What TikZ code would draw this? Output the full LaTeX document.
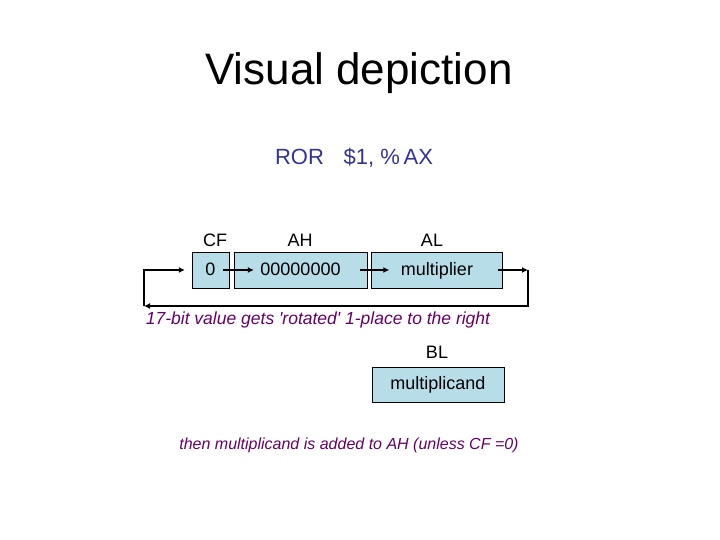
\documentclass[tikz,border=0pt]{standalone}
\usepackage{fontspec}
\setmainfont{Liberation Sans}
\usetikzlibrary{arrows.meta, positioning, calc}
\definecolor{regfill}{RGB}{183,221,232}
\definecolor{rorblue}{RGB}{51,51,153}
\definecolor{notepurple}{RGB}{102,0,102}
\tikzset{
  reg/.style={
    draw=black,
    fill=regfill,
    align=center,
    minimum height=36pt,
    inner sep=0pt,
    text height=12pt,
    text depth=2pt,
    font=\fontsize{18}{20}\selectfont
  },
  regname/.style={font=\fontsize{18}{20}\selectfont, anchor=base},
  note/.style={font=\fontsize{17.5}{20}\selectfont\itshape, text=notepurple, anchor=base},
  arrow/.style={-{Latex[length=6pt,width=6pt]}, line width=1.8pt, draw=black}
}

\begin{document}
\begin{tikzpicture}[x=1pt,y=-1pt]
    \useasboundingbox (0,0) rectangle (720,540);
    \node[font=\fontsize{44}{48}\selectfont, anchor=base] (title) at (359,85) {Visual depiction};
    \node[font=\fontsize{22}{24}\selectfont, text=rorblue, anchor=base] (instr) at (354,165) {ROR\hspace{0.9em}\$1, \%\,AX};

    \node[reg, minimum width=37pt] (cf) at (210.5,270) {0};
    \node[reg, minimum width=133pt] (ah) at (300.5,270) {00000000};
    \node[reg, minimum width=131pt] (al) at (437,270) {multiplier};
    \node[regname] at (215,246) {CF};
    \node[regname] at (300,246) {AH};
    \node[regname] at (432,246) {AL};

    \coordinate (rt) at (528,270);
    \coordinate (lb) at (144,306);
    \draw[arrow] ([xshift=-6pt]cf.east) -- ([xshift=20pt]ah.west);
    \draw[arrow] ([xshift=-7pt]ah.east) -- ([xshift=18pt]al.west);
    \draw[arrow] ([xshift=-5pt]al.east) -- (rt);
    \draw[arrow] (rt) |- (lb);
    \draw[arrow] (lb) |- ([xshift=-7pt]cf.west);

    \node[note] (rotnote) at (318,324) {17-bit value gets \textquotesingle rotated\textquotesingle\ 1-place to the right};

    \node[regname] at (437,358) {BL};
    \node[reg, minimum width=132pt, minimum height=35pt] (bl) at (438,384.5) {multiplicand};

    \node[note, font=\fontsize{16}{18}\selectfont\itshape] (addnote) at (349,449) {then multiplicand is added to AH (unless CF =0)};
  \end{tikzpicture}
\end{document}
